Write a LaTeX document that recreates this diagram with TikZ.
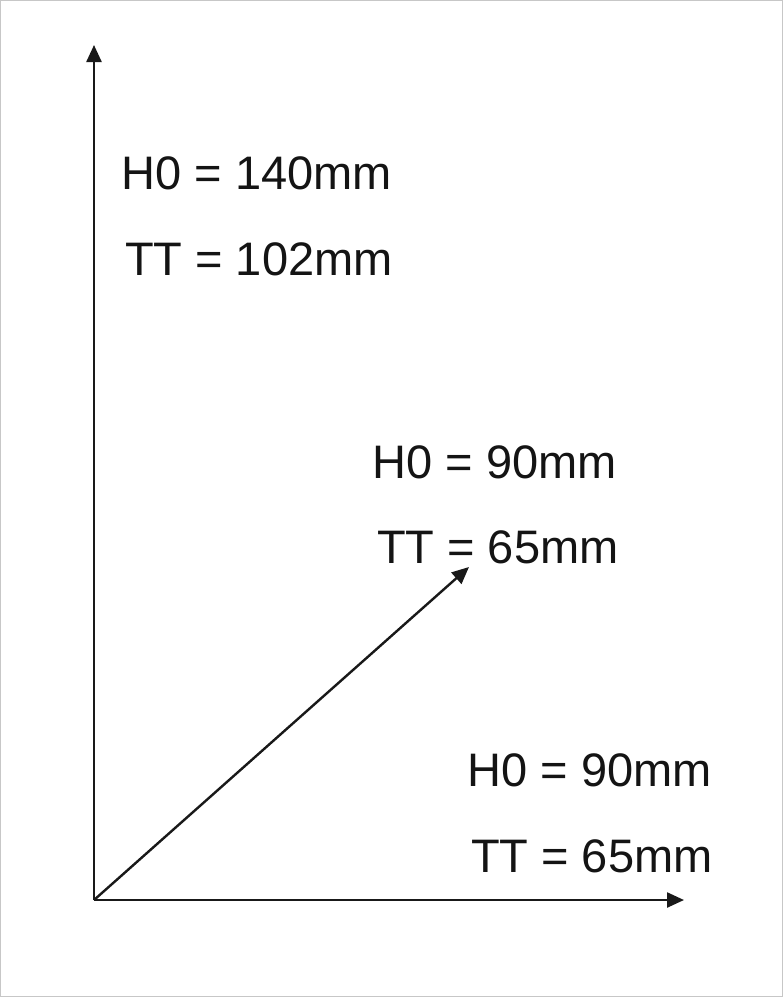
\documentclass[tikz,border=0pt]{standalone}
\usepackage{fontspec}
\setmainfont{Liberation Sans}
\usetikzlibrary{arrows.meta}
\begin{document}
\begin{tikzpicture}[x=1bp,y=-1bp,
  axis/.style={line width=2.4bp,draw=black!90,-{Triangle[length=17bp,width=15bp]}},
  lbl/.style={anchor=base west,inner sep=0pt,outer sep=0pt,text=black!92,font=\fontsize{47bp}{47bp}\selectfont}]
\useasboundingbox (0,0) rectangle (784,999);
\fill[white] (0,0) rectangle (784,999);
\draw[black!22,line width=1.2bp] (0.8,0.8) rectangle (782.6,996.6);
\coordinate (O) at (94,900);
\coordinate (Y) at (94,45);
\coordinate (X) at (684,900);
\coordinate (D) at (469,567);
\draw[axis] (O) -- (Y);
\draw[axis] (O) -- (X);
\draw[axis] (O) -- (D);
\node[lbl] (h1) at (121.5,189) {H0 = 140mm};
\node[lbl] (t1) at (125,275) {TT = 102mm};
\node[lbl] (h2) at (372.5,478) {H0 = 90mm};
\node[lbl] (t2) at (377,563) {TT = 65mm};
\node[lbl] (h3) at (467.5,786) {H0 = 90mm};
\node[lbl] (t3) at (471,872) {TT = 65mm};
\end{tikzpicture}
\end{document}
